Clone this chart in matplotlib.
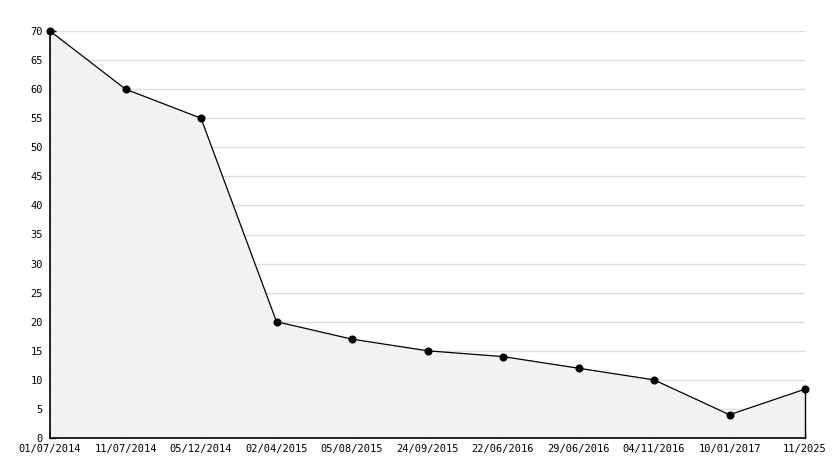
import matplotlib
matplotlib.use("Agg")
import matplotlib.pyplot as plt
from matplotlib.ticker import MultipleLocator

labels = ["01/07/2014", "11/07/2014", "05/12/2014", "02/04/2015", "05/08/2015",
          "24/09/2015", "22/06/2016", "29/06/2016", "04/11/2016", "10/01/2017", "11/2025"]
values = [70, 60, 55, 20, 17, 15, 14, 12, 10, 4, 8.4]

plt.rcParams['font.family'] = ['DejaVu Sans Mono']

fig = plt.figure(figsize=(8.34, 4.68), dpi=100)
ax = fig.add_axes([50/834, 30/468, 755/834, 407/468])

x = list(range(len(values)))
ax.fill_between(x, values, 0, color='#f2f2f2', zorder=2, linewidth=0)
ax.plot(x, values, color='black', linewidth=0.9, zorder=3, clip_on=False)
ax.plot([x[-1], x[-1]], [0, values[-1]], color='black', linewidth=1.0, zorder=3, clip_on=False)
ax.plot(x, values, linestyle='none', marker='o', markersize=4.8, color='black', zorder=6, clip_on=False)

ax.set_xlim(0, len(values) - 1)
ax.set_ylim(0, 70)
ax.set_xticks(x)
ax.set_xticklabels(labels)
ax.yaxis.set_major_locator(MultipleLocator(5))
ax.yaxis.set_minor_locator(MultipleLocator(1))

ax.grid(axis='y', which='major', color='#dcdcdc', linewidth=1, zorder=1)
ax.set_axisbelow(True)

for s in ['top', 'right']:
    ax.spines[s].set_visible(False)
for s in ['left', 'bottom']:
    ax.spines[s].set_linewidth(1.2)
    ax.spines[s].set_zorder(5)

ax.tick_params(axis='y', which='major', direction='in', length=4, width=1, labelsize=7.5, pad=5)
ax.tick_params(axis='y', which='minor', direction='in', length=3, width=1)
ax.tick_params(axis='x', which='major', direction='in', length=5, width=1, labelsize=7.5, pad=4)

fig.savefig("out.png", dpi=100, facecolor='white')
